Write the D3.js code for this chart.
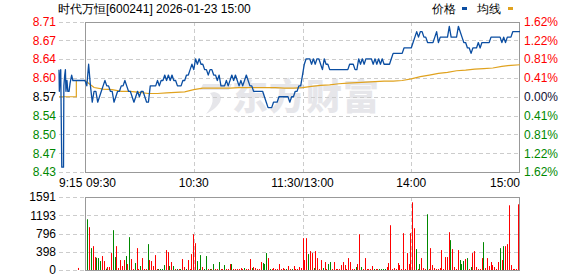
<!DOCTYPE html>
<html><head><meta charset="utf-8">
<script src="https://cdn.jsdelivr.net/npm/d3@7"></script>
<style>body{margin:0;background:#fff}svg{display:block}text{font-family:"Liberation Sans",Arial,sans-serif}</style>
</head><body>
<svg id="c" width="578" height="276"></svg>
<script>
// ---------- DATA ----------
const title = "时代万恒[600241] 2026-01-23 15:00";
const legendNames = ["价格", "均线"];
const prevClose = 8.57;
const maxPct = 0.0162;
const priceTicks = ["8.71","8.67","8.64","8.60","8.57","8.54","8.50","8.47","8.43"];
const pctTicks = ["1.62%","1.22%","0.81%","0.41%","0.00%","0.41%","0.81%","1.22%","1.62%"];
const volTicks = ["1591","1193","796","398","0"];
const volMax = 1591;
const timeLabels = ["9:15","09:30","10:30","11:30/13:00","14:00","15:00"];
const timeIdx = [0, 0, 60, 120, 180, 240];

// pre-market (minutes after 9:15)
const preTimes  = [0, 0.2, 0.5, 1.0, 1.6, 2.6, 2.8, 3.3, 3.7, 4.0, 4.6, 5.1, 5.8, 6.4, 7.3, 8.0, 10, 15];
const prePrices = [8.62,8.58,8.60,8.62,8.44,8.44,8.59,8.61,8.62,8.58,8.60,8.58,8.58,8.595,8.61,8.60,8.60,8.60];
const preAvgTimes = [0, 10, 10, 15];
const preAvg = [8.57, 8.57, 8.60, 8.60];
const preVolTime = [10];
const preVol = [45];

// minute prices 9:30 .. 11:30, 13:01 .. 15:00 (241 points)
const prices = [
8.60,8.59,8.63,8.59,8.56,8.58,8.58,8.56,8.57,8.58,
8.59,8.60,8.59,8.59,8.58,8.58,8.56,8.57,8.58,8.58,
8.59,8.59,8.60,8.59,8.58,8.58,8.57,8.56,8.57,8.58,
8.57,8.58,8.58,8.57,8.56,8.56,8.59,8.59,8.59,8.59,
8.60,8.59,8.60,8.60,8.61,8.60,8.61,8.60,8.61,8.60,
8.60,8.59,8.59,8.59,8.60,8.60,8.61,8.61,8.62,8.63,
8.62,8.64,8.63,8.64,8.63,8.63,8.62,8.62,8.61,8.62,
8.62,8.61,8.61,8.60,8.61,8.59,8.59,8.59,8.60,8.59,
8.60,8.61,8.60,8.61,8.60,8.59,8.60,8.59,8.60,8.61,
8.60,8.59,8.59,8.58,8.58,8.58,8.58,8.58,8.58,8.57,
8.56,8.55,8.55,8.55,8.56,8.56,8.56,8.57,8.57,8.57,
8.57,8.57,8.57,8.56,8.57,8.57,8.58,8.58,8.59,8.59,
8.61,8.63,8.64,8.64,8.64,8.63,8.64,8.63,8.64,8.64,
8.63,8.62,8.64,8.63,8.63,8.62,8.62,8.62,8.62,8.62,
8.62,8.62,8.62,8.62,8.62,8.62,8.63,8.63,8.63,8.62,
8.62,8.64,8.63,8.64,8.63,8.64,8.64,8.64,8.64,8.63,
8.64,8.63,8.64,8.63,8.64,8.63,8.63,8.63,8.63,8.64,
8.65,8.65,8.65,8.65,8.65,8.65,8.66,8.66,8.66,8.66,
8.66,8.67,8.68,8.69,8.68,8.69,8.69,8.68,8.68,8.67,
8.67,8.67,8.67,8.68,8.69,8.67,8.68,8.68,8.68,8.68,
8.68,8.70,8.68,8.68,8.68,8.68,8.70,8.69,8.68,8.67,
8.67,8.66,8.66,8.65,8.66,8.66,8.66,8.67,8.66,8.67,
8.67,8.67,8.67,8.67,8.68,8.68,8.68,8.68,8.68,8.68,
8.67,8.68,8.67,8.68,8.68,8.68,8.69,8.69,8.69,8.69,
8.69];

// average line, read every 5 minutes
const avgIdx = d3.range(0, 241, 5);
const avgVals = [
8.600,8.587,8.584,8.583,8.580,8.580,8.578,8.576,8.576,8.577,
8.578,8.579,8.583,8.586,8.586,8.586,8.586,8.587,8.587,8.587,
8.587,8.587,8.586,8.586,8.587,8.589,8.591,8.592,8.594,8.595,
8.596,8.597,8.598,8.599,8.599,8.600,8.603,8.607,8.610,8.613,
8.615,8.618,8.619,8.621,8.622,8.623,8.626,8.628,8.629];

// minute volumes and direction (r = up, g = down)
const volumes = [
1106,933,477,520,282,267,260,195,304,195,
29,65,65,369,868,282,520,43,217,87,
217,304,130,716,239,22,152,477,22,87,
260,22,22,564,217,195,87,325,22,22,
22,22,108,434,390,87,174,87,22,22,
22,22,239,65,22,217,22,347,780,
585,195,22,325,65,22,304,22,22,22,
130,22,22,174,22,22,108,22,22,130,
130,22,22,22,22,43,22,43,22,22,
239,43,65,43,22,22,174,152,130,369,
260,22,22,43,22,22,130,22,43,22,
22,87,22,22,87,22,22,65,43,694,
217,694,347,412,369,43,412,260,22,217,
43,174,22,130,174,22,174,22,22,22,
108,174,108,22,260,174,22,22,65,130,
780,65,22,260,22,22,22,87,22,22,
22,22,22,22,22,65,152,976,22,43,
22,152,108,22,803,22,369,130,803,
1475,911,456,22,130,260,43,22,1215,22,
477,108,43,22,22,43,434,22,282,282,
824,651,456,65,22,434,217,130,195,239,
260,22,65,369,412,65,22,22,260,607,
43,260,87,174,108,65,22,174,477,217,
520,520,564,1410,108,22,22,22,1432];
const volDir = (
"grgrrgggrr"+"grrrggrrrr"+"rgrgrrgrrg"+"rrrgrrrrrg"+"gggrrgrgrg"+"rgrrgrrrr"+
"rgrgrggrgr"+"grrgrrgrrr"+"grrrrrrgrr"+"rgrrrrrggg"+"rgrrrrrrrr"+"grrgrrrrrr"+
"rrgrrgrrrr"+"grrggrrrrr"+"rrrrrrrrgr"+"rgrrrrrrgr"+"rggggrrrrr"+"rrrrrrrrr"+
"rrgrgrrrgr"+"rrrrrrrrrr"+"rgrrrrgggr"+"grgrrrrrrg"+"rrrrrrrrgr"+"grrrrrrrr").split("");

// ---------- DRAW ----------
const svg = d3.select("#c");
const RED = "#ff0000", GREEN = "#008800", GRID = "#cccccc", FRAME = "#999999";
const BLUE = "#0b4ea2", GOLD = "#e0a21e";

const L0 = 59, L1 = 85, R = 520;
const yTop = 21.5, yBot = 172;
const vTop = 197, vBot = 270;

const xPre = d3.scaleLinear().domain([0, 15]).range([L0, L1]);
const x = d3.scaleLinear().domain([0, 240]).range([L1, R]);
const y = d3.scaleLinear().domain([prevClose * (1 - maxPct), prevClose * (1 + maxPct)]).range([yBot, yTop]);
const xv = d3.scaleLinear().domain([0, volumes.length - 1]).range([87.3, 518]);
const yv = d3.scaleLinear().domain([0, volMax]).range([vBot, vTop]);

const levels = d3.range(9).map(k => y.domain()[1] - k * (y.domain()[1] - y.domain()[0]) / 8);
const vLevels = d3.range(5).map(k => volMax - k * volMax / 4);

// watermark
const wm = svg.append("g").attr("fill", "#e6e6ea");
wm.append("path").attr("d", "M203,84 L232,84 L229,90 L200,90 Z M214,92 C226,94 222,106 206,114 C214,104 214,98 210,93 Z");
wm.append("text").attr("x", 232).attr("y", 110).attr("font-size", 36).attr("font-weight", 900)
  .style("font-family", "'Noto Sans CJK SC'").attr("letter-spacing", 1).text("东方财富");

// grids
const g = svg.append("g").attr("stroke", GRID).attr("stroke-dasharray", "4,3").attr("shape-rendering", "crispEdges");
levels.forEach(v => g.append("line").attr("x1", L0).attr("x2", R).attr("y1", Math.round(y(v)) + 0.5).attr("y2", Math.round(y(v)) + 0.5));
vLevels.forEach(v => g.append("line").attr("x1", L0).attr("x2", R).attr("y1", Math.round(yv(v)) + 0.5).attr("y2", Math.round(yv(v)) + 0.5));
[60, 120, 180].forEach(i => {
  const xx = Math.round(x(i)) + 0.5;
  g.append("line").attr("x1", xx).attr("x2", xx).attr("y1", yTop).attr("y2", yBot);
  g.append("line").attr("x1", xx).attr("x2", xx).attr("y1", vTop).attr("y2", vBot);
});

// frames
svg.append("rect").attr("x", L1 + 0.5).attr("y", Math.round(yTop) + 0.5).attr("width", R - L1 - 1).attr("height", Math.round(yBot) - Math.round(yTop))
  .attr("fill", "none").attr("stroke", FRAME).attr("shape-rendering", "crispEdges");
svg.append("rect").attr("x", L1 + 0.5).attr("y", vTop + 0.5).attr("width", R - L1 - 1).attr("height", vBot - vTop)
  .attr("fill", "none").attr("stroke", FRAME).attr("shape-rendering", "crispEdges");

// avg line
svg.append("path").datum(preAvgTimes.map((t, i) => [xPre(t), y(preAvg[i])]))
  .attr("fill", "none").attr("stroke", GOLD).attr("stroke-width", 1.2).attr("d", d3.line());
svg.append("path").datum(avgIdx.map((t, i) => [x(t), y(avgVals[i])]))
  .attr("fill", "none").attr("stroke", GOLD).attr("stroke-width", 1.2).attr("d", d3.line());

// price line
const prePts = preTimes.map((t, i) => [xPre(t), y(prePrices[i])]);
const mainPts = prices.map((p, i) => [x(i), y(p)]);
svg.append("path").datum(prePts.concat(mainPts))
  .attr("fill", "none").attr("stroke", BLUE).attr("stroke-width", 1.3).attr("stroke-linejoin", "round").attr("d", d3.line());

// volume bars
svg.append("g").selectAll("rect").data(volumes).join("rect")
  .attr("x", (d, i) => Math.round(xv(i)))
  .attr("width", 1)
  .attr("y", d => yv(d))
  .attr("height", d => Math.max(0, vBot - yv(d)))
  .attr("fill", (d, i) => volDir[i] === "g" ? GREEN : RED);
svg.append("g").selectAll("rect").data(preVol).join("rect")
  .attr("x", (d, i) => Math.round(xPre(preVolTime[i])) + 2).attr("width", 1)
  .attr("y", d => yv(d)).attr("height", d => vBot - yv(d)).attr("fill", RED);

// axes
const colorFor = k => k < 4 ? RED : (k === 4 ? "#000" : GREEN);
const axL = d3.axisLeft(y).tickValues(levels).tickSize(0).tickPadding(3).tickFormat((d, k) => priceTicks[k]);
const gl = svg.append("g").attr("transform", `translate(${L0},0)`).call(axL);
gl.select(".domain").remove();
gl.selectAll("text").attr("font-size", 12).style("font-family", "'Liberation Sans',Arial").attr("fill", (d, k) => colorFor(k));

const axR = d3.axisRight(y).tickValues(levels).tickSize(0).tickPadding(4).tickFormat((d, k) => pctTicks[k]);
const gr = svg.append("g").attr("transform", `translate(${R},0)`).call(axR);
gr.select(".domain").remove();
gr.selectAll("text").attr("font-size", 12).style("font-family", "'Liberation Sans',Arial").attr("fill", (d, k) => k === 4 ? "#111133" : colorFor(k));

const axV = d3.axisLeft(yv).tickValues(vLevels).tickSize(0).tickPadding(3).tickFormat((d, k) => volTicks[k]);
const gv = svg.append("g").attr("transform", `translate(${L0},0)`).call(axV);
gv.select(".domain").remove();
gv.selectAll("text").attr("font-size", 12).style("font-family", "'Liberation Sans',Arial").attr("fill", "#000");

// time labels
const anchors = ["start", "start", "middle", "middle", "middle", "end"];
timeLabels.forEach((t, k) => {
  const xx = k === 0 ? xPre(timeIdx[k]) : x(timeIdx[k]) + (k === 1 ? 1 : 0);
  svg.append("text").attr("x", xx).attr("y", 186.5).attr("font-size", 12).attr("fill", "#000")
    .attr("text-anchor", anchors[k]).text(t);
});

// title & legend
svg.append("text").attr("x", 58).attr("y", 13).attr("font-size", 12).attr("fill", "#000").text(title);
svg.append("text").attr("x", 432).attr("y", 13).attr("font-size", 12).attr("fill", "#000").text(legendNames[0]);
svg.append("rect").attr("x", 462).attr("y", 7).attr("width", 5).attr("height", 3).attr("fill", BLUE);
svg.append("text").attr("x", 477).attr("y", 13).attr("font-size", 12).attr("fill", "#000").text(legendNames[1]);
svg.append("rect").attr("x", 508).attr("y", 7).attr("width", 5).attr("height", 3).attr("fill", GOLD);
</script>
</body></html>
